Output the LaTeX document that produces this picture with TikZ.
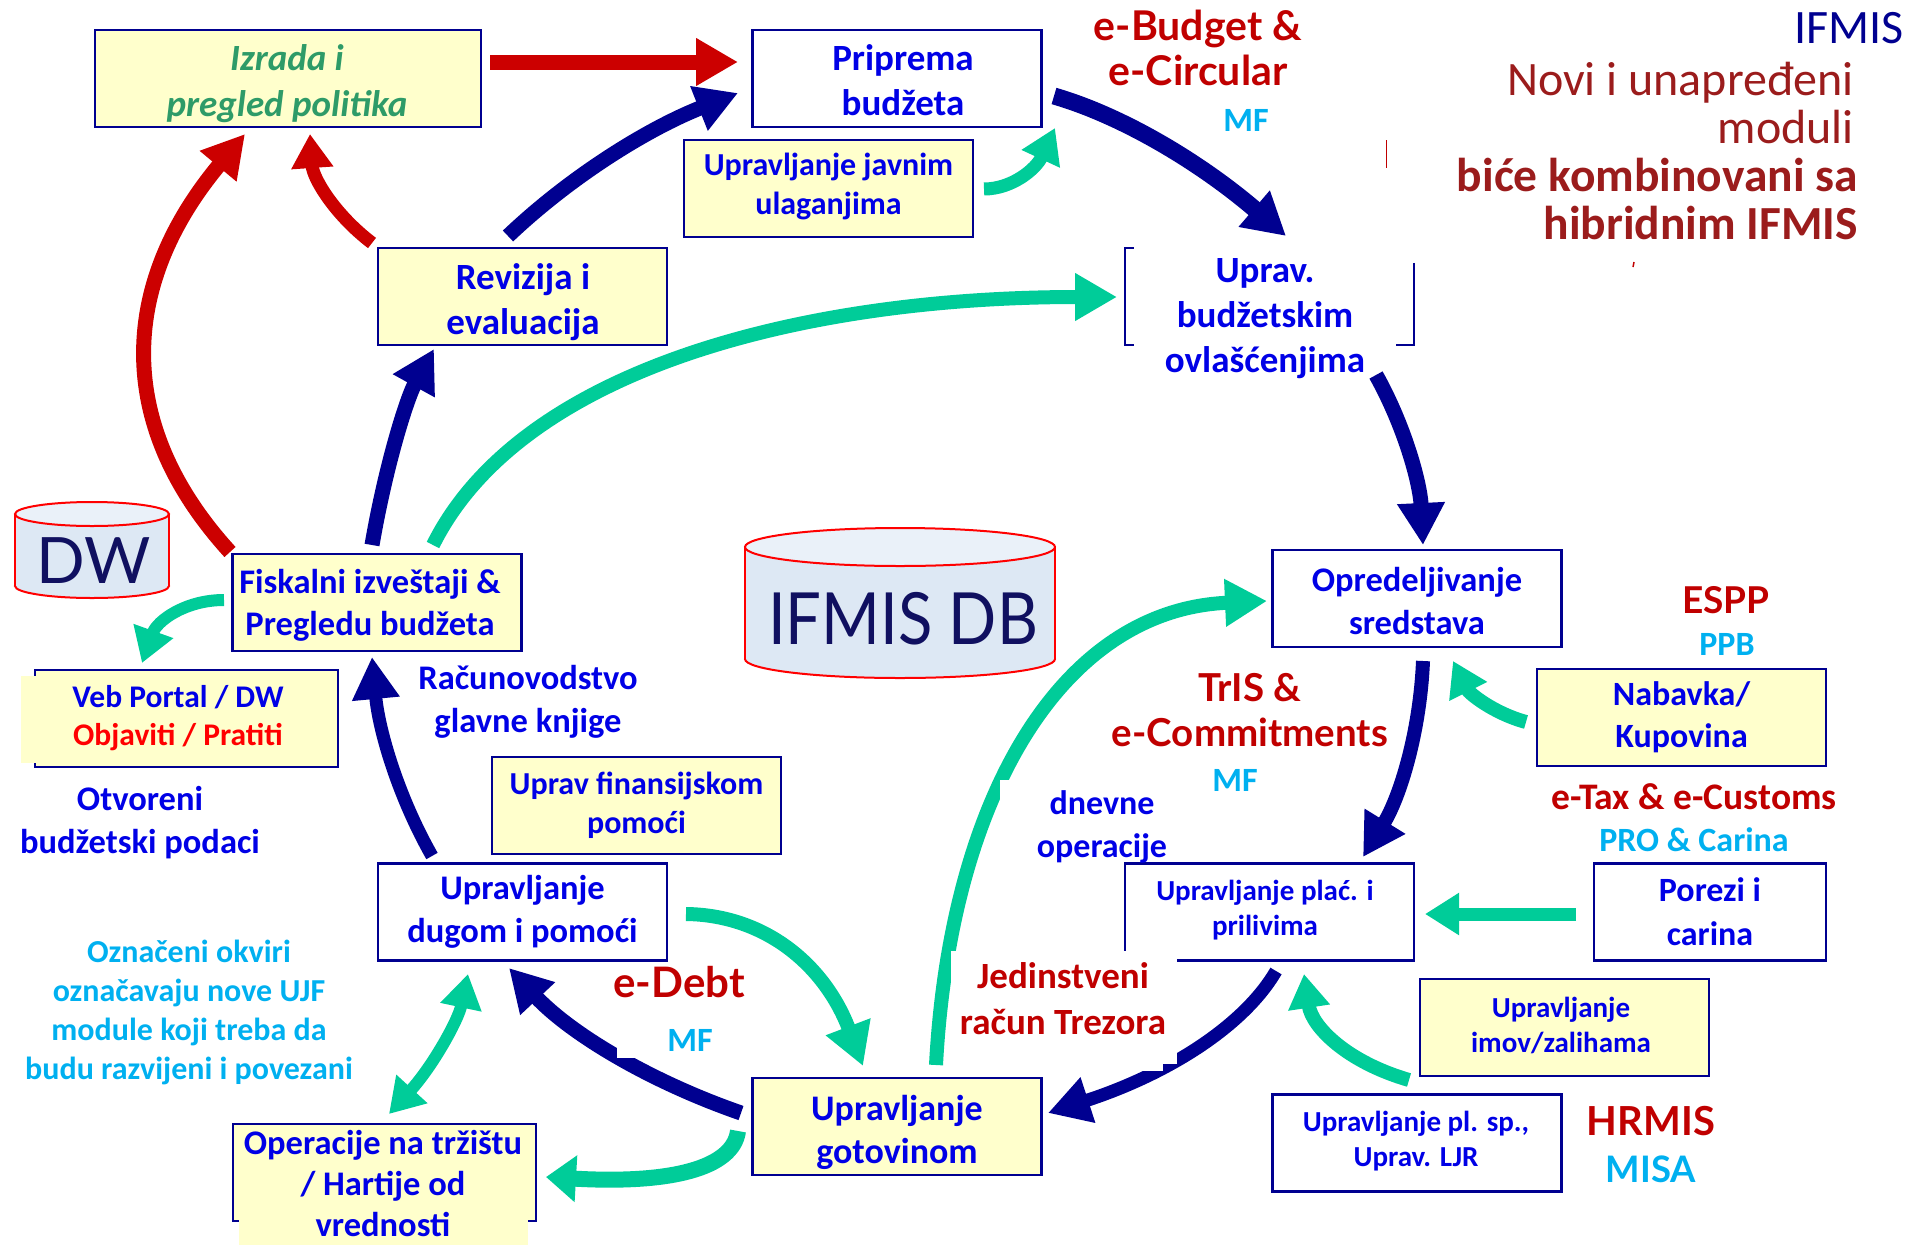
\documentclass[tikz,border=0pt]{standalone}
\usepackage{graphicx}
\usepackage{fontspec}
\setmainfont{Carlito}
\newfontfamily\comicf{Lato}
\usetikzlibrary{arrows.meta}
\definecolor{navy}{HTML}{000090}
\definecolor{grn}{HTML}{00CC99}
\definecolor{rd}{HTML}{CC0000}
\definecolor{txtblue}{HTML}{0000E6}
\definecolor{boxyel}{HTML}{FFFFCC}
\definecolor{cyanl}{HTML}{00B0F0}
\definecolor{dred}{HTML}{C00000}
\definecolor{bred}{HTML}{9B1C1C}
\definecolor{polgreen}{HTML}{2E9B68}
\definecolor{dbbody}{HTML}{DDE8F4}
\definecolor{dbtop}{HTML}{EAF1F9}
\definecolor{dbtext}{HTML}{101060}
\tikzset{
  box/.style={draw=navy,line width=2.5pt,minimum width=289pt,minimum height=97pt,inner sep=0pt,align=center,text=txtblue},
  ybox/.style={box,fill=boxyel},
  wbox/.style={box,fill=white},
  lab/.style={inner sep=0pt,align=center,text=txtblue},
  cmc/.style={inner sep=0pt,align=center,text=dred,font=\comicf\bfseries\fontsize{40}{45}\selectfont},
  arw/.style={line width=#1,-{Triangle[width=45pt,length=42pt]}},
  navyarrow/.style={arw=15pt,draw=navy},
  greenarrow/.style={arw=14pt,draw=grn},
  redarrow/.style={arw=15pt,draw=rd},
  smalltip/.style={-{Triangle[width=40pt,length=34pt]}},
  dbline/.style={draw=red,line width=2pt}
}
\newcommand{\dbcyl}[5]{%
  \pgfmathsetmacro{\xa}{#1-#2}\pgfmathsetmacro{\xb}{#1+#2}
  \draw[dbline,fill=dbbody] (#1,#4) ellipse [x radius=#2pt,y radius=#5pt];
  \fill[dbbody] (\xa,#3) rectangle (\xb,#4);
  \draw[dbline] (\xa,#3) -- (\xa,#4) (\xb,#3) -- (\xb,#4);
  \draw[dbline,fill=dbtop] (#1,#3) ellipse [x radius=#2pt,y radius=#5pt];
}
\begin{document}
\begin{tikzpicture}[x=1pt,y=-1pt]
\useasboundingbox (0,0) rectangle (1911,1245);
% cylinders
\dbcyl{92}{77}{514}{586}{12}
\dbcyl{900}{155}{547}{659}{19}
\node[inner sep=0pt,text=dbtext,font=\comicf\fontsize{64}{64}\selectfont] (dw) at (94,561) {DW};
\node[inner sep=0pt,text=dbtext,font=\comicf\fontsize{72}{72}\selectfont] (db) at (903,619) {\scalebox{.88}[1]{IFMIS DB}};
% boxes
\node[ybox,minimum width=386pt] (izrada) at (288,78.5) {};
\node[wbox] (priprema) at (897,78.5) {};
\node[ybox] (javnim) at (828.5,188.5) {};
\node[ybox] (revizija) at (522.5,296.5) {};
\node[ybox] (fiskalni) at (377,602.5) {};
\node[ybox,minimum width=303pt] (veb) at (186.5,718.5) {};
\node[ybox,font=\bfseries\fontsize{32}{39}\selectfont] (pomoc) at (636.5,805.5) {Uprav finansijskom\\pomoći};
\node[wbox,font=\bfseries\fontsize{34.5}{43}\selectfont] (dug) at (522.5,912) {Upravljanje\\dugom i pomoći};
\node[ybox,minimum width=303pt] (operacije) at (384.5,1172.5) {};
\node[ybox] (gotovina) at (897,1126.5) {};
\node[wbox] (opred) at (1417,598.5) {};
\node[ybox,font=\bfseries\fontsize{34}{42}\selectfont] (nabavka) at (1681.5,717.5) {Nabavka/\\Kupovina};
\node[wbox,minimum width=232pt,font=\bfseries\fontsize{34}{44}\selectfont] (porezi) at (1710,912) {Porezi i\\carina};
\node[wbox] (plac) at (1269.5,912) {};
\node[ybox] (imov) at (1564.5,1027.5) {};
\node[wbox] (plsp) at (1417,1143) {};
% texts of the boxes, placed as printed
\node[lab,text=polgreen,font=\bfseries\itshape\fontsize{37}{46}\selectfont] (izradatext) at (287,84) {Izrada i\\pregled politika};
\node[lab,font=\bfseries\fontsize{37}{45}\selectfont] (pripremat) at (903,80) {Priprema\\budžeta};
\node[lab,font=\bfseries\fontsize{32}{39}\selectfont] (javnimt) at (828.5,186) {Upravljanje javnim\\ulaganjima};
\node[lab,font=\bfseries\fontsize{37}{45}\selectfont] (revizijat) at (523,302) {Revizija i\\evaluacija};
\node[lab,font=\bfseries\fontsize{34.5}{42}\selectfont] (fisktext) at (370,605) {Fiskalni izveštaji \&\\Pregledu budžeta};
\node[lab,font=\bfseries\fontsize{36}{43}\selectfont] (gotovinat) at (897,1132) {Upravljanje\\gotovinom};
\node[lab,font=\bfseries\fontsize{34.5}{43}\selectfont] (opredt) at (1417,601) {Opredeljivanje\\sredstava};
\node[lab,font=\bfseries\fontsize{29}{35}\selectfont] (plact) at (1265,910) {Upravljanje plać. i\\prilivima};
\node[lab,font=\bfseries\fontsize{29}{35}\selectfont] (imovt) at (1561,1025) {Upravljanje\\imov/zalihama};
\node[lab,font=\bfseries\fontsize{29}{35}\selectfont] (plspt) at (1416,1141) {Upravljanje pl. sp.,\\Uprav. LJR};
% bracket box of the budget authority module
\node[inner sep=0pt,minimum width=289pt,minimum height=97pt] (budzet) at (1269.5,296.5) {};
\draw[navy,line width=2.5pt] ([shift={(9,0)}]budzet.north west) -- (budzet.north west) -- (budzet.south west) -- ([shift={(9,0)}]budzet.south west);
\draw[navy,line width=2.5pt] ([shift={(0,15)}]budzet.north east) -- (budzet.south east) -- ([shift={(-18,0)}]budzet.south east);
% yellow patches that overlap box borders
\fill[boxyel] (21,676) rectangle (38,763);
\fill[boxyel] (239,1216) rectangle (528,1245);
% arrows
\draw[redarrow] ([shift={(202,-16.5)}]izrada.center) -- ([shift={(-159,-16.5)}]priprema.center);
\draw[navyarrow] ([shift={(-14.5,-60.5)}]revizija.center) .. controls (570,177) and (647,129) .. ([shift={(-159,14.5)}]priprema.center);
\draw[redarrow,line width=13pt,smalltip] ([shift={(-150.5,-53.5)}]revizija.center) .. controls (334,214) and (313,178) .. ([shift={(22,55.5)}]izrada.center);
\draw[redarrow] ([shift={(-147,-50.5)}]fiskalni.center) .. controls (114,425) and (119,285) .. ([shift={(-43,55.5)}]izrada.center);
\draw[navyarrow] ([shift={(-5,-57.5)}]fiskalni.center) .. controls (386,464) and (407,398) .. ([shift={(-88.5,52.5)}]revizija.center);
\draw[greenarrow] ([shift={(56,-57.5)}]fiskalni.center) .. controls (520,370) and (800,297) .. ([shift={(-152.5,0.5)}]budzet.center);
\draw[navyarrow,line width=17pt] ([shift={(157,17.5)}]priprema.center) .. controls (1123,116) and (1201,163) .. ([shift={(16.5,-60.5)}]budzet.center);
\draw[greenarrow,line width=13pt,smalltip] ([shift={(155.5,0.5)}]javnim.center) .. controls (1012,189) and (1036,169) .. ([shift={(158,49.5)}]priprema.center);
\draw[navyarrow] ([shift={(106.5,78.5)}]budzet.center) .. controls (1404,425) and (1420,482) .. ([shift={(6,-53.5)}]opred.center);
\draw[navyarrow,line width=14pt] ([shift={(6,62.5)}]opred.center) .. controls (1420,732) and (1400,797) .. ([shift={(93.5,-55)}]plac.center);
\draw[greenarrow,smalltip] ([shift={(-155.5,4.5)}]nabavka.center) .. controls (1493,713) and (1469,693) .. ([shift={(36,62.5)}]opred.center);
\draw[greenarrow,line width=13pt,smalltip] ([shift={(-134,2)}]porezi.center) -- ([shift={(155.5,2)}]plac.center);
\draw[navyarrow,line width=13pt] ([shift={(6.5,59)}]plac.center) .. controls (1244,1026) and (1168,1074) .. ([shift={(151,-13.5)}]gotovina.center);
\draw[greenarrow] ([shift={(39,-61.5)}]gotovina.center) .. controls (950,800) and (1060,610) .. ([shift={(-150,2.5)}]opred.center);
\draw[navyarrow] ([shift={(-156,-13.5)}]gotovina.center) .. controls (646,1080) and (569,1032) .. ([shift={(-13.5,56)}]dug.center);
\draw[greenarrow] ([shift={(163.5,2)}]dug.center) .. controls (766,915) and (825,966) .. ([shift={(-34,-60.5)}]gotovina.center);
\draw[greenarrow,line width=16pt,-{Triangle[width=45pt,length=30pt]}] ([shift={(-159,4.5)}]gotovina.center) .. controls (733,1169) and (669,1184) .. ([shift={(161.5,4.5)}]operacije.center);
\draw[greenarrow,line width=12pt,{Triangle[width=40pt,length=34pt]}-{Triangle[width=40pt,length=34pt]}] ([shift={(-54.5,62)}]dug.center) .. controls (458,1021) and (432,1067) .. ([shift={(4.5,-58.5)}]operacije.center);
\draw[navyarrow,line width=13pt] ([shift={(-90.5,-56)}]dug.center) .. controls (399,798) and (379,732) .. ([shift={(-5,54.5)}]fiskalni.center);
\draw[greenarrow,line width=12pt,smalltip] ([shift={(-153,-2.5)}]fiskalni.center) .. controls (185,600) and (157,621) .. ([shift={(-44.5,-55.5)}]veb.center);
\draw[greenarrow,smalltip] ([shift={(-155.5,52.5)}]imov.center) .. controls (1347,1062) and (1312,1027) .. ([shift={(34.5,62)}]plac.center);
% white label backgrounds that cut the arrows
\fill[white] (951,951) rectangle (1177,1064);
\fill[white] (951,1064) rectangle (1163,1071);
\fill[white] (1000,780) rectangle (1122,862);
\fill[white] (617,1020) rectangle (720,1058);
% labels over overlapping boxes
\node[lab,font=\bfseries\fontsize{37}{45}\selectfont] (budzettext) at (1265,319) {Uprav.\\budžetskim\\ovlašćenjima};
\node[lab,font=\bfseries\fontsize{31.5}{38}\selectfont] (vebtext) at (178,718) {Veb Portal / DW\\\textcolor{red}{Objaviti / Pratiti}};
\node[lab,font=\bfseries\fontsize{34.5}{41}\selectfont] (opertext) at (383,1184) {Operacije na tržištu\\/ Hartije od\\vrednosti};
% free labels
\node[lab,font=\bfseries\fontsize{34.5}{43}\selectfont] (otvoreni) at (140,823) {Otvoreni\\budžetski podaci};
\node[lab,font=\bfseries\fontsize{34.5}{43}\selectfont] (racun) at (528,702) {Računovodstvo\\glavne knjige};
\node[lab,text=cyanl,font=\bfseries\fontsize{32}{39}\selectfont] (oznaceni) at (189,1012) {Označeni okviri\\označavaju nove UJF\\module koji treba da\\budu razvijeni i povezani};
\node[cmc,font=\comicf\bfseries\fontsize{42}{45}\selectfont] (edebt) at (679,982) {e-Debt};
\node[lab,text=cyanl,font=\bfseries\fontsize{34}{34}\selectfont] (mfa) at (690,1040) {MF};
\node[lab,text=dred,font=\bfseries\fontsize{37}{46}\selectfont] (jedin) at (1063,999) {Jedinstveni\\račun Trezora};
\node[lab,font=\bfseries\fontsize{34}{43}\selectfont] (dnevne) at (1102,827) {dnevne\\operacije};
\node[cmc,font=\comicf\bfseries\fontsize{38.5}{45}\selectfont] (tris) at (1250,710) {TrIS \&\\e-Commitments};
\node[lab,text=cyanl,font=\bfseries\fontsize{34}{34}\selectfont] (mfb) at (1235,780) {MF};
\node[lab,text=dred,font=\comicf\bfseries\fontsize{37}{37}\selectfont] (espp) at (1726,600) {ESPP};
\node[lab,text=cyanl,font=\bfseries\fontsize{34}{34}\selectfont] (ppb) at (1727,644) {PPB};
\node[lab,text=dred,font=\bfseries\fontsize{37.5}{37}\selectfont] (etax) at (1694,797) {e-Tax \& e-Customs};
\node[lab,text=cyanl,font=\bfseries\fontsize{34}{34}\selectfont] (pro) at (1694,840) {PRO \& Carina};
\node[cmc] (hrmis) at (1651,1121) {HRMIS};
\node[lab,text=cyanl,font=\comicf\bfseries\fontsize{36.5}{36}\selectfont] (misa) at (1651,1169) {MISA};
\node[cmc,font=\comicf\bfseries\fontsize{41}{45}\selectfont] (ebudget) at (1198,48) {e-Budget \&\\e-Circular};
\node[lab,text=cyanl,font=\bfseries\fontsize{34}{34}\selectfont] (mfc) at (1246,120) {MF};
\node[inner sep=0pt,anchor=east,text=navy,font=\fontsize{48}{48}\selectfont] (ifmis) at (1904,28) {IFMIS};
\node[inner sep=0pt,anchor=east,align=right,text=bred,font=\fontsize{48}{48}\selectfont] (novi) at (1854,103) {Novi i unapređeni\\moduli};
\node[inner sep=0pt,anchor=east,align=right,text=bred,font=\bfseries\fontsize{47.5}{48}\selectfont] (bice) at (1858,199) {biće kombinovani sa\\hibridnim IFMIS};
% stray marks
\draw[dred,line width=1pt] (1386,140) -- (1386,168);
\draw[dred,line width=1.5pt] (1634,262) -- (1633,267);
\end{tikzpicture}
\end{document}
